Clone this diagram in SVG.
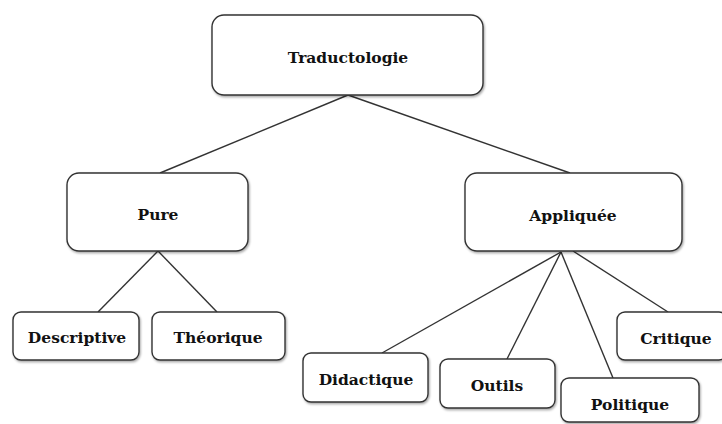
<svg xmlns="http://www.w3.org/2000/svg" width="722" height="424" viewBox="0 0 722 424">
<defs>
<filter id="sh" x="-10%" y="-10%" width="130%" height="130%">
<feDropShadow dx="1" dy="1.5" stdDeviation="1" flood-color="#000" flood-opacity="0.35"/>
</filter>
</defs>
<style>
.box{fill:#fff;stroke:#333;stroke-width:1.4;filter:url(#sh)}
.t{font-family:"DejaVu Serif",serif;font-weight:bold;font-size:15.5px;fill:#111;text-anchor:middle;dominant-baseline:central}
.c line{stroke:#333;stroke-width:1.4}
</style>
<rect width="722" height="424" fill="#fff"/>
<g class="c" id="connectors">
<line x1="348" y1="95" x2="160" y2="173"/>
<line x1="348" y1="95" x2="570" y2="173"/>
<line x1="158" y1="251" x2="98" y2="312"/>
<line x1="158" y1="251" x2="217" y2="312"/>
<line x1="561" y1="252" x2="382" y2="353"/>
<line x1="561" y1="252" x2="507" y2="359"/>
<line x1="561" y1="252" x2="613" y2="378"/>
<line x1="573" y1="251" x2="668" y2="312"/>
</g>
<g id="traductologie"><rect class="box" x="212" y="15" width="271" height="80" rx="12"/><text class="t" x="348" y="57">Traductologie</text></g>
<g id="pure"><rect class="box" x="67" y="173" width="181" height="78" rx="12"/><text class="t" x="158" y="214">Pure</text></g>
<g id="appliquee"><rect class="box" x="465" y="173" width="217" height="78" rx="12"/><text class="t" x="573" y="215">Appliquée</text></g>
<g id="descriptive"><rect class="box" x="13" y="312" width="126" height="48" rx="8"/><text class="t" x="77" y="337">Descriptive</text></g>
<g id="theorique"><rect class="box" x="152" y="312" width="133" height="48" rx="8"/><text class="t" x="218" y="337">Théorique</text></g>
<g id="didactique"><rect class="box" x="303" y="353" width="125" height="49" rx="8"/><text class="t" x="366" y="379">Didactique</text></g>
<g id="outils"><rect class="box" x="440" y="359" width="115" height="49" rx="8"/><text class="t" x="497" y="385">Outils</text></g>
<g id="politique"><rect class="box" x="561" y="378" width="138" height="44" rx="8"/><text class="t" x="630" y="404">Politique</text></g>
<g id="critique"><rect class="box" x="617" y="312" width="110" height="48" rx="8"/><text class="t" x="676" y="338">Critique</text></g>
</svg>
